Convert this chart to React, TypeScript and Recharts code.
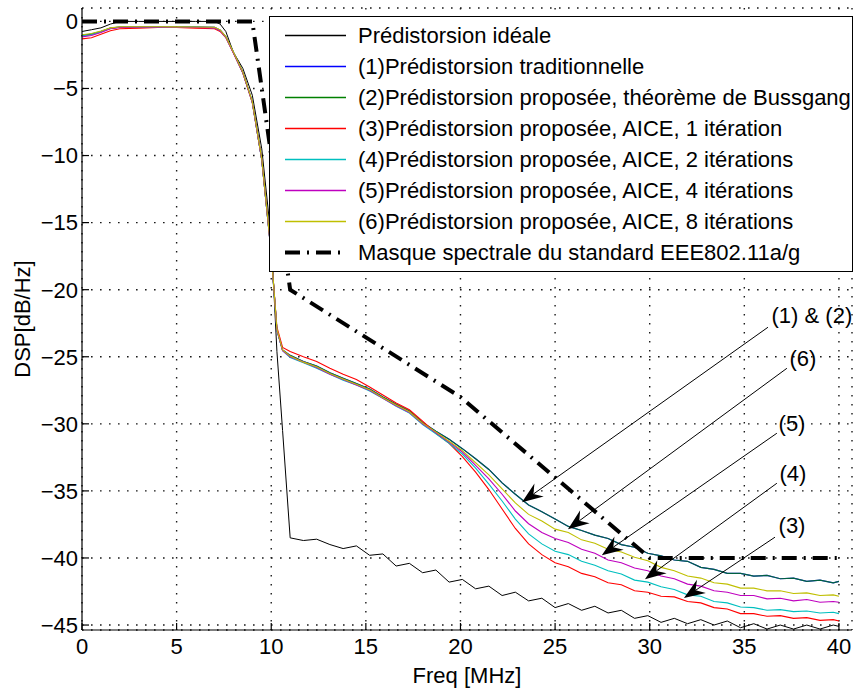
import React from "react";
import {
  CartesianGrid,
  Legend,
  Line,
  LineChart,
  ReferenceDot,
  ReferenceLine,
  XAxis,
  YAxis,
} from "recharts";

const FONT = "'Liberation Sans', Arial, Helvetica, sans-serif";

// frequency grid (MHz)
const freq = [
  0, 0.5, 1, 1.5, 2, 3, 4, 5, 6, 7, 7.3, 7.6, 8, 8.5, 9, 9.5, 10, 10.3, 10.6,
  11, 11.7, 12.4, 13.1, 13.8, 14.5, 15.2, 15.9, 16.6, 17.3, 18, 18.7, 19.4,
  20.1, 20.8, 21.5, 22.2, 22.9, 23.6, 24.3, 25, 25.7, 26.4, 27.1, 27.8, 28.5,
  29.2, 29.9, 30.6, 31.3, 32, 32.7, 33.4, 34.1, 34.8, 35.5, 36.2, 36.9, 37.6,
  38.3, 39, 39.7, 40,
];

// DSP values (dB/Hz)
const ideal = [
  -0.75, -0.62, -0.48, -0.2, 0, 0, 0, 0, 0, 0, -0.2, -0.75, -2.3, -3.5, -5.5,
  -9.5, -16.2, -24.6, -30.5,
  -38.5, -38.7, -38.6, -39.0, -39.3, -39.1, -39.8, -39.7, -40.6, -40.4, -41.1,
  -40.9, -41.8, -41.6, -42.3, -42.1, -42.8, -42.55, -43.2, -43.0, -43.7, -43.4,
  -43.9, -43.6, -44.1, -43.9, -44.5, -44.3, -44.8, -44.5, -44.9, -44.6, -45.0,
  -44.7, -45.2, -44.9, -45.3, -45.0, -45.3, -45.0, -45.3, -45.0, -45.1,
];

const bussgang = [
  -1.05, -0.95, -0.75, -0.5, -0.42, -0.42, -0.42, -0.42, -0.43, -0.45, -0.65,
  -1.15, -2.3, -3.8, -6.0, -10.3, -17.3, -23.0, -24.5,
  -24.9, -25.35, -25.7, -26.2, -26.6, -27.0, -27.4, -28.0, -28.55, -29.05,
  -29.9, -30.55, -31.15, -31.85, -32.6, -33.4, -34.4, -35.25, -36.05, -36.55,
  -37.1, -37.65, -37.95, -38.3, -38.55, -39.0, -39.2, -39.65, -39.85, -40.15,
  -40.25, -40.7, -40.85, -41.15, -41.15, -41.35, -41.3, -41.55, -41.5, -41.75,
  -41.65, -41.85, -41.75,
];

const traditional = [
  -1.05, -0.95, -0.75, -0.5, -0.42, -0.42, -0.42, -0.42, -0.43, -0.45, -0.65,
  -1.15, -2.3, -3.8, -6.0, -10.3, -17.3, -23.0, -24.5,
  -24.9, -25.35, -25.7, -26.2, -26.6, -27.0, -27.4, -28.0, -28.55, -29.05,
  -29.9, -30.55, -31.15, -31.85, -32.6, -33.4, -34.4, -35.25, -36.05, -36.55,
  -37.1, -37.65, -37.95, -38.3, -38.55, -39.0, -39.2, -39.65, -39.85, -40.15,
  -40.25, -40.7, -40.85, -41.15, -41.15, -41.35, -41.3, -41.55, -41.5, -41.75,
  -41.65, -41.85, -41.75,
];

const aice1 = [
  -1.3, -1.22, -0.95, -0.7, -0.55, -0.5, -0.45, -0.45, -0.5, -0.55, -0.75,
  -1.2, -2.35, -3.85, -6.05, -10.3, -17.3, -22.8, -24.3,
  -24.6, -25.0, -25.35, -25.85, -26.3, -26.7, -27.25, -27.85, -28.45, -28.95,
  -29.8, -30.7, -31.45, -32.45, -33.6, -34.9, -36.35, -37.8, -38.95, -39.75,
  -40.35, -40.65, -41.15, -41.4, -41.85, -42.0, -42.45, -42.55, -42.85, -42.9,
  -43.25, -43.35, -43.7, -43.8, -44.15, -44.15, -44.35, -44.3, -44.5, -44.45,
  -44.65, -44.6, -44.7,
];

const aice2 = [
  -1.1, -1.0, -0.78, -0.52, -0.44, -0.44, -0.43, -0.43, -0.44, -0.47, -0.67,
  -1.17, -2.32, -3.82, -6.02, -10.3, -17.3, -23.0, -24.55,
  -25.05, -25.45, -25.85, -26.3, -26.75, -27.1, -27.55, -28.1, -28.7, -29.2,
  -30.05, -30.75, -31.45, -32.25, -33.3, -34.5, -35.75, -37.1, -38.2, -38.95,
  -39.5, -39.75, -40.25, -40.55, -40.95, -41.2, -41.65, -41.8, -42.15, -42.35,
  -42.75, -42.85, -43.25, -43.35, -43.65, -43.7, -43.9, -43.85, -44.0, -43.95,
  -44.1, -44.05, -44.15,
];

const aice4 = [
  -1.15, -1.05, -0.82, -0.55, -0.45, -0.44, -0.44, -0.44, -0.45, -0.48, -0.68,
  -1.18, -2.33, -3.83, -6.03, -10.3, -17.3, -23.0, -24.55,
  -25.0, -25.4, -25.8, -26.3, -26.7, -27.1, -27.5, -28.1, -28.65, -29.15,
  -30.0, -30.65, -31.35, -32.1, -33.1, -34.1, -35.25, -36.5, -37.45, -38.1,
  -38.55, -38.85, -39.35, -39.65, -40.15, -40.35, -40.75, -40.95, -41.35,
  -41.55, -41.95, -42.1, -42.45, -42.55, -42.8, -42.8, -43.05, -43.0, -43.2,
  -43.1, -43.3, -43.25, -43.3,
];

const aice8 = [
  -1.0, -0.9, -0.72, -0.48, -0.4, -0.4, -0.4, -0.41, -0.42, -0.44, -0.63,
  -1.13, -2.28, -3.78, -5.98, -10.25, -17.25, -22.95, -24.5,
  -24.95, -25.4, -25.75, -26.25, -26.65, -27.05, -27.45, -28.05, -28.6, -29.1,
  -29.95, -30.6, -31.3, -32.0, -32.9, -33.8, -34.85, -35.9, -36.75, -37.25,
  -37.85, -38.1, -38.65, -38.9, -39.35, -39.55, -39.95, -40.2, -40.7, -40.95,
  -41.35, -41.5, -41.85, -41.95, -42.25, -42.25, -42.45, -42.45, -42.65, -42.6,
  -42.8, -42.75, -42.85,
];

// IEEE 802.11a/g spectral mask
const maskFreq = [0, 9, 11, 20, 30, 40];
const maskLevel = [0, 0, -20, -28, -40, -40];

const xTicks = [0, 5, 10, 15, 20, 25, 30, 35, 40];
const yTicks = [0, -5, -10, -15, -20, -25, -30, -35, -40, -45];

const seriesNames = [
  "Prédistorsion idéale",
  "(1)Prédistorsion traditionnelle",
  "(2)Prédistorsion proposée, théorème de Bussgang",
  "(3)Prédistorsion proposée, AICE, 1 itération",
  "(4)Prédistorsion proposée, AICE, 2 itérations",
  "(5)Prédistorsion proposée, AICE, 4 itérations",
  "(6)Prédistorsion proposée, AICE, 8 itérations",
  "Masque spectrale du standard EEE802.11a/g",
];

// arrow annotations, in data units: text position, line start, arrow tip
const notes = [
  { text: "(1) & (2)", at: [38.57, -21.9], from: [36.25, -22.8], to: [23.25, -35.84] },
  { text: "(6)", at: [38.1, -25.1], from: [37.25, -25.86], to: [25.68, -37.85] },
  { text: "(5)", at: [37.52, -29.95], from: [36.72, -30.7], to: [27.47, -39.79] },
  { text: "(4)", at: [37.57, -33.68], from: [36.72, -34.43], to: [29.75, -41.58] },
  { text: "(3)", at: [37.52, -37.56], from: [36.62, -38.45], to: [31.81, -42.99] },
];

const rows = freq.map((f, i) => ({
  freq: f,
  ideal: ideal[i],
  traditional: traditional[i],
  bussgang: bussgang[i],
  aice1: aice1[i],
  aice2: aice2[i],
  aice4: aice4[i],
  aice8: aice8[i],
}));

const maskRows = maskFreq.map((f, i) => ({ freq: f, mask: maskLevel[i] }));

const fmtY = (v: number) => (v < 0 ? `\u2212${Math.abs(v)}` : String(v));

const ArrowShape = (props: any) => {
  const { x1, y1, x2, y2 } = props;
  const dx = x2 - x1;
  const dy = y2 - y1;
  const len = Math.hypot(dx, dy) || 1;
  const ux = dx / len;
  const uy = dy / len;
  const nx = -uy;
  const ny = ux;
  const L = 21;
  const W = 8;
  const N = 14;
  const bx = x2 - ux * L;
  const by = y2 - uy * L;
  const pts = [
    [x2, y2],
    [bx + nx * W, by + ny * W],
    [x2 - ux * N, y2 - uy * N],
    [bx - nx * W, by - ny * W],
  ]
    .map((p) => p.join(","))
    .join(" ");
  return (
    <g>
      <line x1={x1} y1={y1} x2={x2 - ux * N} y2={y2 - uy * N} stroke="#000" strokeWidth={1} />
      <polygon points={pts} fill="#000" />
    </g>
  );
};

const renderLegend = (props: any) => {
  const items = [...(props.payload || [])].sort(
    (a: any, b: any) => seriesNames.indexOf(a.value) - seriesNames.indexOf(b.value)
  );
  return (
    <div
      style={{
        boxSizing: "border-box",
        width: 584,
        height: 256,
        border: "1px solid #000",
        background: "#fff",
        paddingTop: 3,
        fontFamily: FONT,
        fontSize: 22,
        color: "#000",
      }}
    >
      {items.map((entry: any) => {
        const p = entry.payload || {};
        return (
          <div key={entry.value} style={{ display: "flex", alignItems: "center", height: 31 }}>
            <svg width={88} height={31} style={{ flex: "none", display: "block" }}>
              <line
                x1={15}
                x2={76}
                y1={15.5}
                y2={15.5}
                stroke={p.stroke || entry.color}
                strokeWidth={Math.max(p.strokeWidth ?? 1, 1.3)}
                strokeDasharray={p.strokeDasharray}
              />
            </svg>
            <span style={{ whiteSpace: "nowrap", lineHeight: "31px" }}>{entry.value}</span>
          </div>
        );
      })}
    </div>
  );
};

const yLabel = (props: any) => {
  const vb = props.viewBox;
  const cy = vb ? vb.y + vb.height / 2 : 319;
  return (
    <text
      transform={`translate(30, ${cy}) rotate(-90)`}
      textAnchor="middle"
      fontFamily={FONT}
      fontSize={22}
      fill="#000"
    >
      DSP[dB/Hz]
    </text>
  );
};

export default function App() {
  const tickStyle = { fontSize: 22, fill: "#000", fontFamily: FONT };
  const axisStroke = { stroke: "#000", strokeWidth: 1.2 };
  return (
    <div style={{ position: "absolute", left: 0, top: 0, width: 855, height: 691, background: "#fff" }}>
      <LineChart
        width={855}
        height={691}
        data={rows}
        margin={{ top: 8, right: 3, bottom: 0, left: 22 }}
      >
        <CartesianGrid stroke="#1a1a1a" strokeWidth={1.4} strokeDasharray="1.6 7.4" />
        <XAxis
          dataKey="freq"
          type="number"
          domain={[0, 40.69]}
          ticks={xTicks}
          allowDataOverflow
          height={61}
          tick={tickStyle}
          tickSize={-7}
          tickMargin={15}
          tickLine={axisStroke}
          axisLine={axisStroke}
          label={{
            value: "Freq [MHz]",
            position: "insideBottom",
            offset: 8,
            fill: "#000",
            fontSize: 22,
            fontFamily: FONT,
          }}
        />
        <XAxis
          xAxisId="top"
          orientation="top"
          dataKey="freq"
          type="number"
          domain={[0, 40.69]}
          ticks={xTicks}
          allowDataOverflow
          height={0}
          tick={false}
          tickSize={-7}
          tickLine={axisStroke}
          axisLine={axisStroke}
        />
        <YAxis
          type="number"
          domain={[-45.37, 1]}
          ticks={yTicks}
          allowDataOverflow
          width={60}
          tick={tickStyle}
          tickFormatter={fmtY}
          tickSize={-7}
          tickMargin={11}
          tickLine={axisStroke}
          axisLine={axisStroke}
          label={{ content: yLabel }}
        />
        <YAxis
          yAxisId="right"
          orientation="right"
          type="number"
          domain={[-45.37, 1]}
          ticks={yTicks}
          allowDataOverflow
          width={0}
          tick={false}
          tickSize={-7}
          tickLine={axisStroke}
          axisLine={axisStroke}
        />
        <Line dataKey="ideal" name={seriesNames[0]} stroke="#000000" strokeWidth={1} dot={false} type="linear" isAnimationActive={false} />
        <Line dataKey="traditional" name={seriesNames[1]} stroke="#0000ff" strokeWidth={1.2} dot={false} type="linear" isAnimationActive={false} />
        <Line dataKey="bussgang" name={seriesNames[2]} stroke="#008000" strokeOpacity={0.75} strokeWidth={1.2} dot={false} type="linear" isAnimationActive={false} />
        <Line dataKey="aice1" name={seriesNames[3]} stroke="#ff0000" strokeWidth={1.1} dot={false} type="linear" isAnimationActive={false} />
        <Line dataKey="aice2" name={seriesNames[4]} stroke="#00bfbf" strokeWidth={1.1} dot={false} type="linear" isAnimationActive={false} />
        <Line dataKey="aice4" name={seriesNames[5]} stroke="#bf00bf" strokeWidth={1.1} dot={false} type="linear" isAnimationActive={false} />
        <Line dataKey="aice8" name={seriesNames[6]} stroke="#bfbf00" strokeWidth={1.1} dot={false} type="linear" isAnimationActive={false} />
        <Line
          data={maskRows}
          dataKey="mask"
          name={seriesNames[7]}
          stroke="#000000"
          strokeWidth={4}
          strokeDasharray="15 7 2 7"
          dot={false}
          type="linear"
          isAnimationActive={false}
        />
        {notes.map((n) => (
          <ReferenceLine
            key={`l-${n.text}`}
            segment={[
              { x: n.from[0], y: n.from[1] },
              { x: n.to[0], y: n.to[1] },
            ]}
            shape={ArrowShape}
          />
        ))}
        {notes.map((n) => (
          <ReferenceDot
            key={`t-${n.text}`}
            x={n.at[0]}
            y={n.at[1]}
            r={0}
            fill="none"
            stroke="none"
            label={{ value: n.text, position: "center", fill: "#000", fontSize: 22, fontFamily: FONT }}
          />
        ))}
        <Legend
          content={renderLegend}
          layout="vertical"
          align="center"
          verticalAlign="middle"
          wrapperStyle={{ left: 269, top: 16, width: 584, height: 256 }}
        />
      </LineChart>
    </div>
  );
}
